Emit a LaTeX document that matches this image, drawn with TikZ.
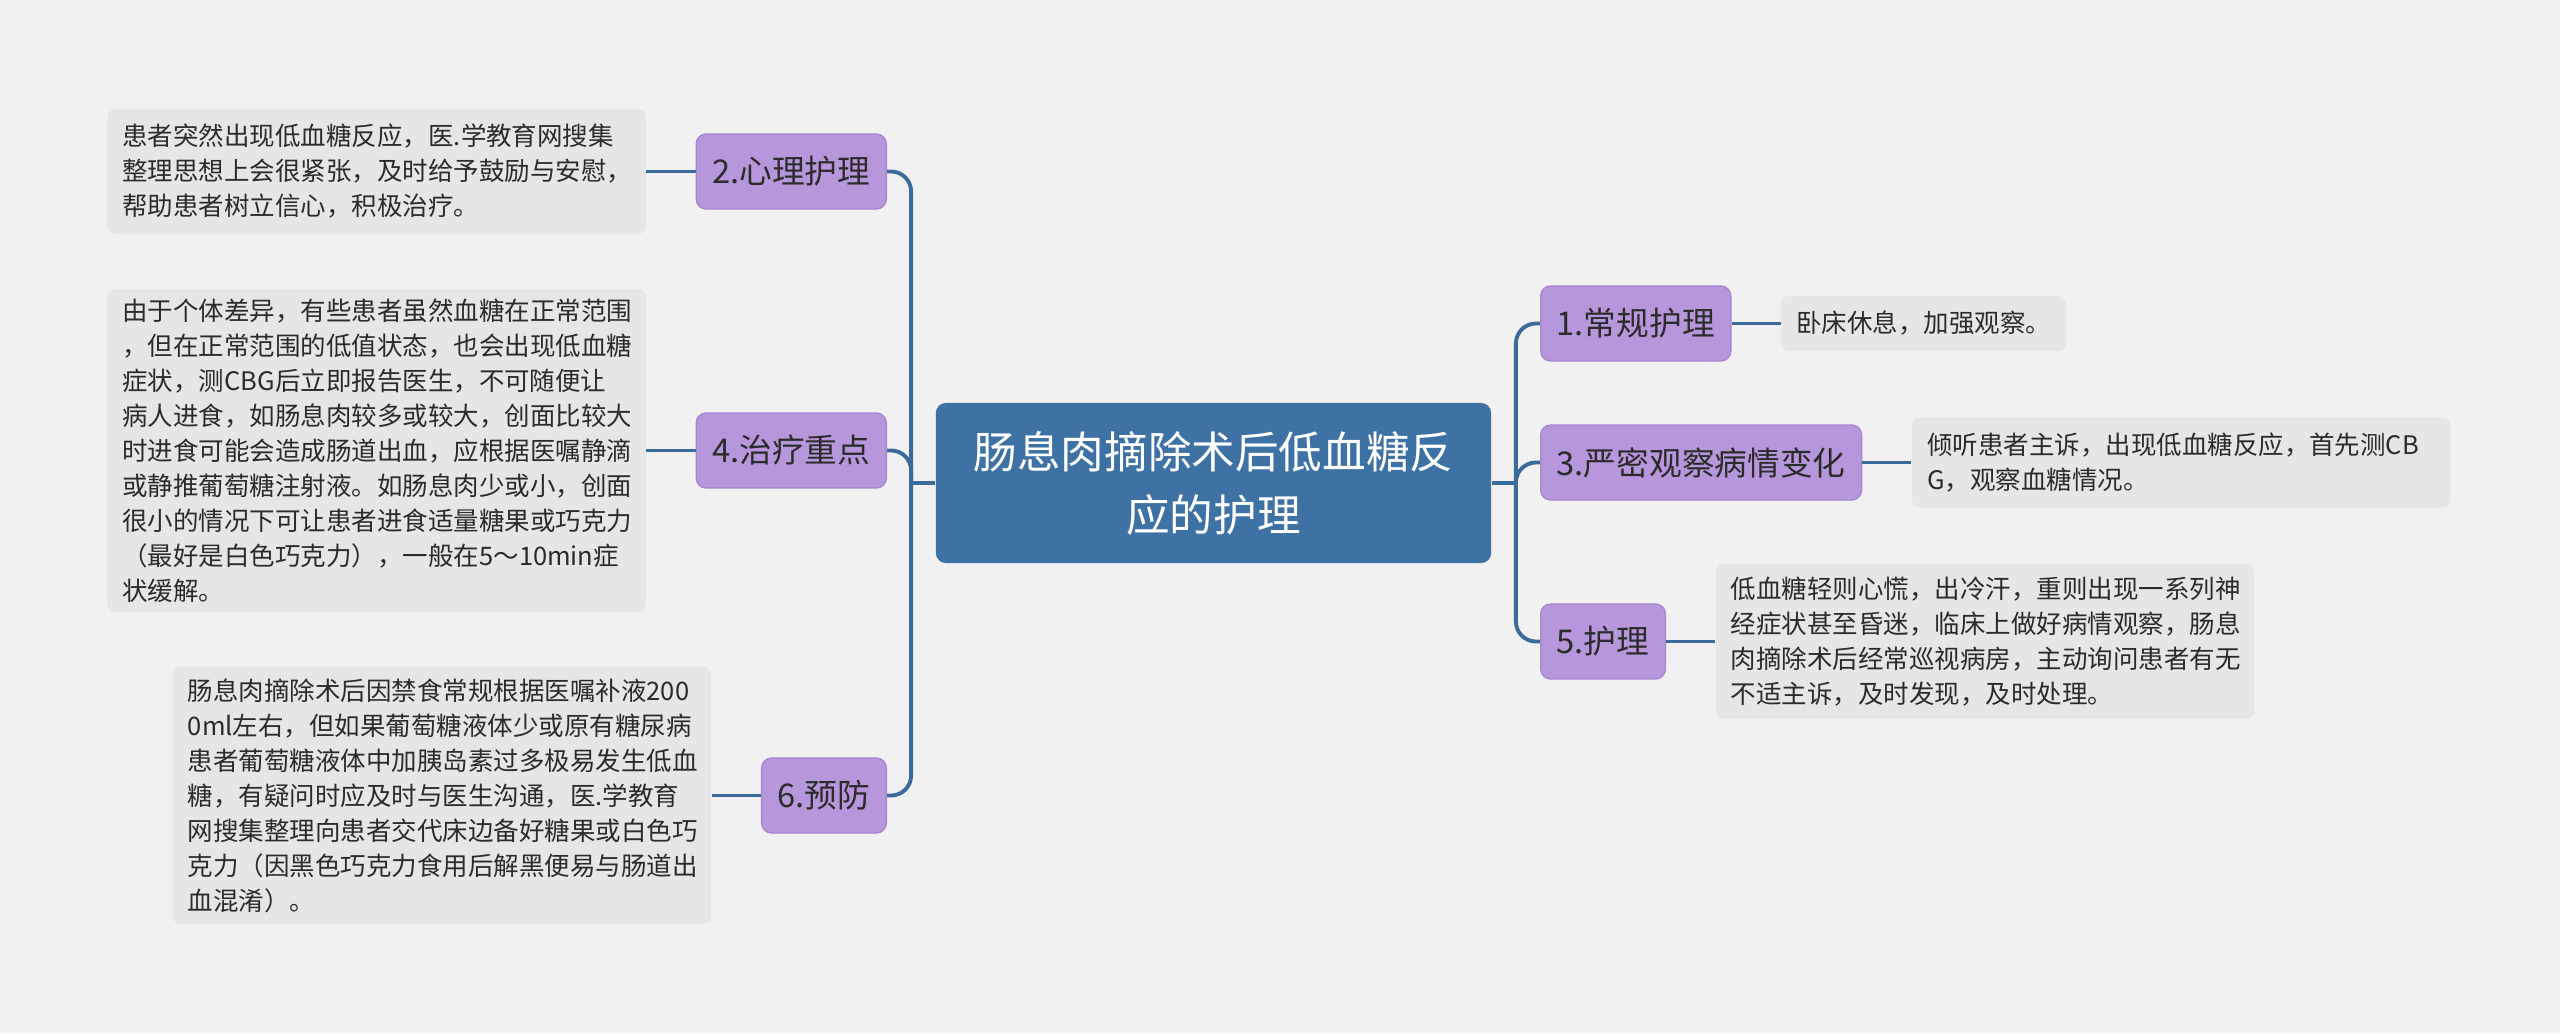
\documentclass[tikz,border=0pt]{standalone}
\usepackage{fontspec}
\newfontfamily\cjk{Noto Sans CJK SC}
\usetikzlibrary{positioning}
\definecolor{mBg}{HTML}{F1F1F1}
\definecolor{mRoot}{HTML}{3E72A5}
\definecolor{mLink}{HTML}{3A6B9A}
\definecolor{mTopic}{HTML}{B797DB}
\definecolor{mTopicLine}{HTML}{A887D0}
\definecolor{mNote}{HTML}{E6E6E6}
\definecolor{mText}{HTML}{2B2B2B}

\begin{document}
\begin{tikzpicture}[
    x=0.01cm, y=-0.01cm,
    root/.style={fill=mRoot, rounded corners=0.1cm, text=white, align=center,
        font=\cjk\fontsize{12.4}{17.9}\selectfont,
        minimum width=5.55cm, minimum height=1.6cm},
    topic/.style={fill=mTopic, draw=mTopicLine, rounded corners=0.1cm, text=mText,
        font=\cjk\fontsize{9.3}{11}\selectfont, minimum height=0.75cm, inner xsep=0.16cm},
    note/.style={fill=mNote, rounded corners=0.08cm, text=mText, align=left,
        font=\cjk\fontsize{7.25}{9.96}\selectfont, inner xsep=0.15cm, inner ysep=0.1cm},
    wide/.style={text width=5.08cm},
    link/.style={draw=mLink, line width=1.1pt, rounded corners=0.2cm},
    node distance=0.49cm
]
    \fill[mBg] (0,0) rectangle (2560,1033);

    \node[root] (root) at (1213.5,483) {肠息肉摘除术后低血糖反\\应的护理};

    % left side
    \node[topic, anchor=east] (t2) at (887,171.5) {2.心理护理};
    \node[topic, anchor=east] (t4) at (887,450.5) {4.治疗重点};
    \node[topic, anchor=east] (t6) at (887,795.5) {6.预防};
    \node[note, wide, minimum height=1.25cm, left=of t2] (n2) {患者突然出现低血糖反应，医.学教育网搜集\\整理思想上会很紧张，及时给予鼓励与安慰，\\帮助患者树立信心，积极治疗。};
    \node[note, wide, minimum height=3.2cm, left=of t4] (n4) {由于个体差异，有些患者虽然血糖在正常范围\\，但在正常范围的低值状态，也会出现低血糖\\症状，测CBG后立即报告医生，不可随便让\\病人进食，如肠息肉较多或较大，创面比较大\\时进食可能会造成肠道出血，应根据医嘱静滴\\或静推葡萄糖注射液。如肠息肉少或小，创面\\很小的情况下可让患者进食适量糖果或巧克力\\（最好是白色巧克力），一般在5～10min症\\状缓解。};
    \node[note, wide, minimum height=2.57cm, left=of t6] (n6) {肠息肉摘除术后因禁食常规根据医嘱补液200\\0ml左右，但如果葡萄糖液体少或原有糖尿病\\患者葡萄糖液体中加胰岛素过多极易发生低血\\糖，有疑问时应及时与医生沟通，医.学教育\\网搜集整理向患者交代床边备好糖果或白色巧\\克力（因黑色巧克力食用后解黑便易与肠道出\\血混淆）。};

    % right side
    \node[topic, anchor=west] (t1) at (1540,323.5) {1.常规护理};
    \node[topic, anchor=west] (t3) at (1540,462.5) {3.严密观察病情变化};
    \node[topic, anchor=west] (t5) at (1540,641.5) {5.护理};
    \node[note, minimum height=0.55cm, right=of t1] (n1) {卧床休息，加强观察。};
    \node[note, wide, minimum height=0.9cm, right=of t3] (n3) {倾听患者主诉，出现低血糖反应，首先测CB\\G，观察血糖情况。};
    \node[note, wide, minimum height=1.55cm, right=of t5] (n5) {低血糖轻则心慌，出冷汗，重则出现一系列神\\经症状甚至昏迷，临床上做好病情观察，肠息\\肉摘除术后经常巡视病房，主动询问患者有无\\不适主诉，及时发现，及时处理。};

    \coordinate[left=0.24cm of root.west] (jl);
    \coordinate[right=0.24cm of root.east] (jr);
    \draw[link] (root.west) -- (jl);
    \draw[link] (root.east) -- (jr);
    \foreach \t in {t2,t4,t6}
        \draw[link] (jl) |- (\t.east);
    \foreach \t in {t1,t3,t5}
        \draw[link] (jr) |- (\t.west);
    \foreach \t/\n in {t2/n2,t4/n4,t6/n6}
        \draw[link] (\t.west) -- (\n.east);
    \foreach \t/\n in {t1/n1,t3/n3,t5/n5}
        \draw[link] (\t.east) -- (\n.west);
\end{tikzpicture}
\end{document}
